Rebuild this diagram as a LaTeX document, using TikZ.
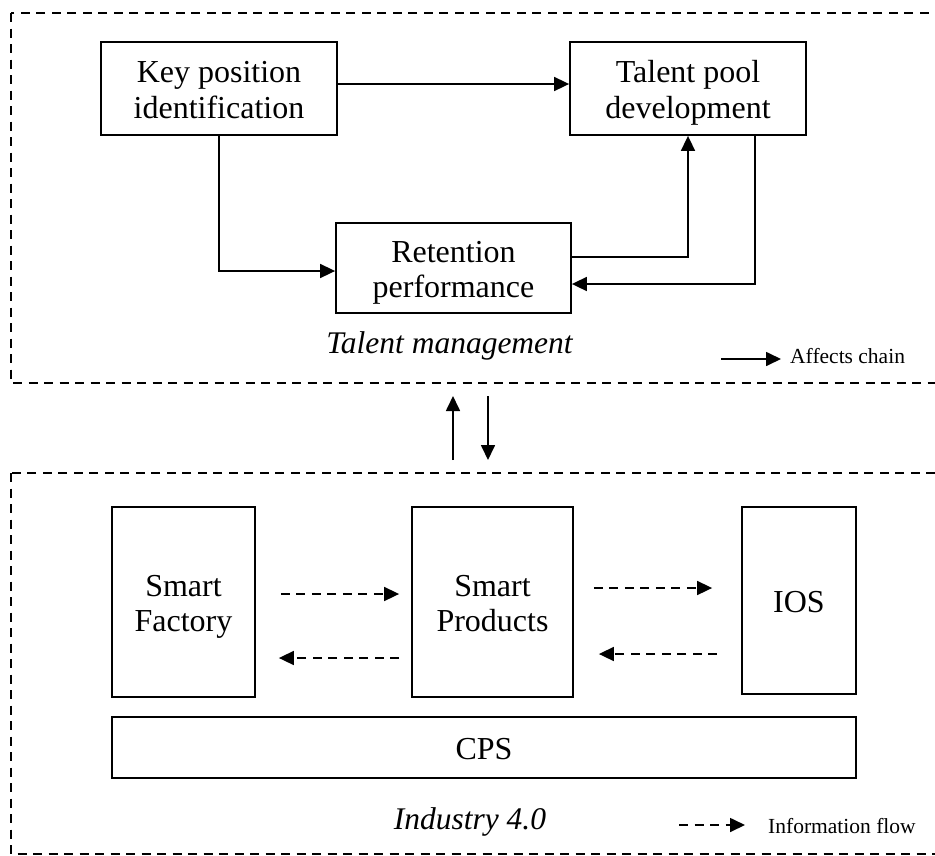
\documentclass[tikz,border=0pt]{standalone}
\usepackage{fontspec}
\setmainfont{Liberation Serif}
\usetikzlibrary{arrows.meta,calc}
\newcommand\boxstrut{\rule[-8pt]{0pt}{39.5pt}}
\newcommand\boxfont{\fontsize{32}{35.5}\selectfont\lineskiplimit=-100pt\relax\lineskip=0pt\relax}
\begin{document}
\begin{tikzpicture}[x=1pt,y=-1pt,
  box/.style={draw,line width=1.8pt,inner sep=0pt,align=center,font=\boxfont},
  arr/.style={line width=1.7pt,-{Triangle[length=15pt,width=14pt]}},
  darr/.style={arr,dash pattern=on 9pt off 6.5pt},
  frame/.style={line width=1.6pt,dash pattern=on 9pt off 6.5pt},
  lab/.style={font=\itshape\fontsize{31.5}{36}\selectfont,inner sep=0pt,anchor=base},
  leg/.style={font=\fontsize{21.5}{25}\selectfont,inner sep=0pt,anchor=base west}]
\useasboundingbox (0,0) rectangle (935,855);
\clip (0,0) rectangle (935,855);
% frames
\draw[frame] (11,13) rectangle (960,383);
\draw[frame] (11,473) rectangle (960,854);
% top nodes
\node[box,minimum width=236pt,minimum height=93pt] (key) at (219,88.5) {\boxstrut Key position\\\boxstrut identification};
\node[box,minimum width=236pt,minimum height=93pt] (talent) at (688,88.5) {\boxstrut Talent pool\\\boxstrut development};
\node[box,minimum width=235pt,minimum height=90pt] (ret) at (453.5,268) {\boxstrut Retention\\\boxstrut performance};
\draw[arr] ([yshift=4.5pt]key.east) -- ([yshift=4.5pt]talent.west);
\draw[arr] (key.south) |- ([yshift=-3pt]ret.west);
\draw[arr] ([yshift=11pt]ret.east) -| (talent.south);
\draw[arr] ([xshift=67pt]talent.south) |- ([yshift=-16pt]ret.east);
\node[lab] (tm) at (449.5,353) {Talent management};
\coordinate (l1a) at (721,359);
\coordinate (l1b) at (781,359);
\draw[arr] (l1a) -- (l1b);
\node[leg] (l1t) at (790,363) {Affects chain};
% between
\coordinate (upa) at (453,460);
\coordinate (upb) at (453,396);
\coordinate (dna) at (488,396);
\coordinate (dnb) at (488,460);
\draw[arr] (upa) -- (upb);
\draw[arr] (dna) -- (dnb);
% bottom nodes
\node[box,minimum width=143pt,minimum height=190pt] (sf) at (183.5,602) {\boxstrut Smart\\\boxstrut Factory};
\node[box,minimum width=161pt,minimum height=190pt] (sp) at (492.5,602) {\boxstrut Smart\\\boxstrut Products};
\node[box,minimum width=114pt,minimum height=187pt] (ios) at (799,600.5) {\boxstrut IOS};
\node[box,minimum width=744pt,minimum height=61pt] (cps) at (484,747.5) {\boxstrut CPS};
\draw[darr] ([xshift=25pt,yshift=8pt]sf.east) -- ([xshift=-12pt,yshift=8pt]sp.west);
\draw[darr] ([xshift=-12pt,yshift=-56pt]sp.west) -- ([xshift=23pt,yshift=-56pt]sf.east);
\coordinate (b1) at ([xshift=20pt,yshift=14pt]sp.east);
\coordinate (b2) at ([xshift=-29pt]ios.west);
\draw[darr] (b1) -- (b1 -| b2);
\coordinate (c1) at ([xshift=-24pt]ios.west);
\coordinate (c2) at ([xshift=25pt,yshift=-52pt]sp.east);
\draw[darr] (c1 |- c2) -- (c2);
\node[lab] (ind) at (470,829) {Industry 4.0};
\coordinate (l2a) at (679,825);
\coordinate (l2b) at (745,825);
\draw[darr] (l2a) -- (l2b);
\node[leg] (l2t) at (768,833) {Information flow};
\end{tikzpicture}
\end{document}
